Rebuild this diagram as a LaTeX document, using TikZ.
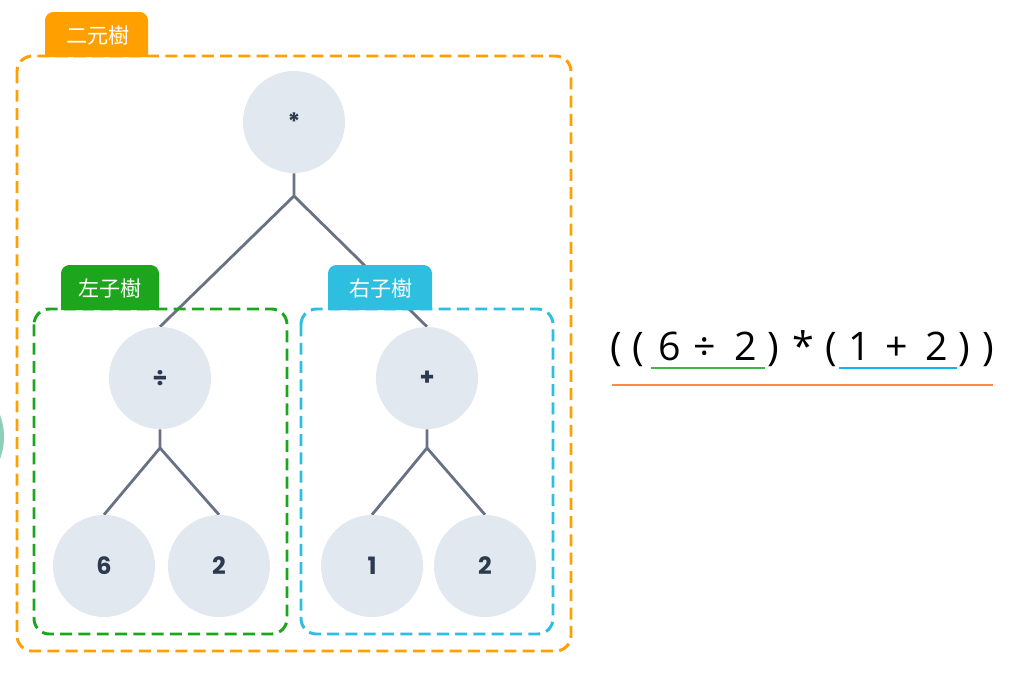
\documentclass[tikz,border=0pt]{standalone}
\usepackage{fontspec}
\setmainfont{Open Sans}
\newfontfamily\treefont{Poppins}
\newfontfamily\cjk{Noto Sans CJK TC}
\usetikzlibrary{calc,backgrounds}
\definecolor{ink}{HTML}{2C3A4F}
\definecolor{vertexfill}{HTML}{E2E8F0}
\definecolor{edgeline}{HTML}{687284}
\definecolor{binline}{HTML}{FFA000}
\definecolor{leftline}{HTML}{1DA61D}
\definecolor{rightline}{HTML}{2EBFE0}
\definecolor{leftmark}{HTML}{3CB54A}
\definecolor{rightmark}{HTML}{12B0EC}
\definecolor{allmark}{HTML}{FF8A3D}
\definecolor{blob}{HTML}{8FCFB8}
\newcommand{\treesize}{\fontsize{17}{19}\selectfont}
\newcommand{\tabsize}{\fontsize{15}{17}\selectfont}
\newcommand{\exprsize}{\fontsize{28}{31}\selectfont}
\tikzset{
 vertex/.style={circle,fill=vertexfill,minimum size=2.55cm,inner sep=0pt,font=\treefont\bfseries\treesize,text=ink},
 edge/.style={draw=edgeline,line width=2pt},
 frame/.style={dash pattern=on 8.5pt off 4.5pt,line width=2.1pt,rounded corners=11pt},
 tabshape/.style={rounded corners=6pt},
 tablabel/.style={text=white,font=\cjk\tabsize,inner sep=0pt},
 token/.style={font=\exprsize,text=black,anchor=base,inner sep=0pt},
 under/.style={line width=1.6pt},
}

\begin{document}
\begin{tikzpicture}[x=.025cm,y=-.025cm]

\useasboundingbox (0,0) rectangle (1024,673);
\fill[blob] (-58,437) circle[radius=1.55cm];
% frames
\draw[frame,draw=binline] (17,56) rectangle (571,651);
\draw[frame,draw=leftline] (34,309) rectangle (287,634);
\draw[frame,draw=rightline] (301,309) rectangle (553,634);
% tree
\node[vertex] (times) at (294,122) {*};
\node[vertex] (div) at (160,378) {÷};
\node[vertex] (plus) at (427,378) {+};
\node[vertex] (six) at (104,566) {6};
\node[vertex] (twoa) at (219,566) {2};
\node[vertex] (one) at (372,566) {1};
\node[vertex] (twob) at (485,566) {2};
\coordinate (tj) at (294,196);
\coordinate (dj) at (160,448);
\coordinate (pj) at (427,448);
\begin{scope}[on background layer]
\draw[edge] (times) -- (tj) -- (div.north); \draw[edge] (tj) -- (plus.north);
\draw[edge] (div) -- (dj) -- (six.north); \draw[edge] (dj) -- (twoa.north);
\draw[edge] (plus) -- (pj) -- (one.north); \draw[edge] (pj) -- (twob.north);
\end{scope}
% tabs
\fill[tabshape,binline] (45,57) -- (45,12) -- (148,12) -- (148,57);
\node[tablabel] (bintab) at (98,35) {二元樹};
\fill[tabshape,leftline] (61,310) -- (61,265) -- (159,265) -- (159,310);
\node[tablabel] (lefttab) at (110,288) {左子樹};
\fill[tabshape,rightline] (328,310) -- (328,265) -- (432,265) -- (432,310);
\node[tablabel] (righttab) at (381,288) {右子樹};
% expression
\foreach \t/\x [count=\i] in {{(}/616,{(}/638,6/670,÷/705,2/746,{)}/773,*/803,{(}/831,1/860,+/897,2/937,{)}/964,{)}/988}
 \node[token] (t\i) at (\x,360) {\t};
\draw[under,draw=leftmark] ($(t3.base west)+(-7,8)$) -- ($(t5.base east)+(7,8)$);
\draw[under,draw=rightmark] ($(t9.base west)+(-9,8)$) -- ($(t11.base east)+(8,8)$);
\draw[under,draw=allmark] ($(t1.base west)+(2,25)$) -- ($(t13.base east)+(-1,25)$);

\end{tikzpicture}
\end{document}
